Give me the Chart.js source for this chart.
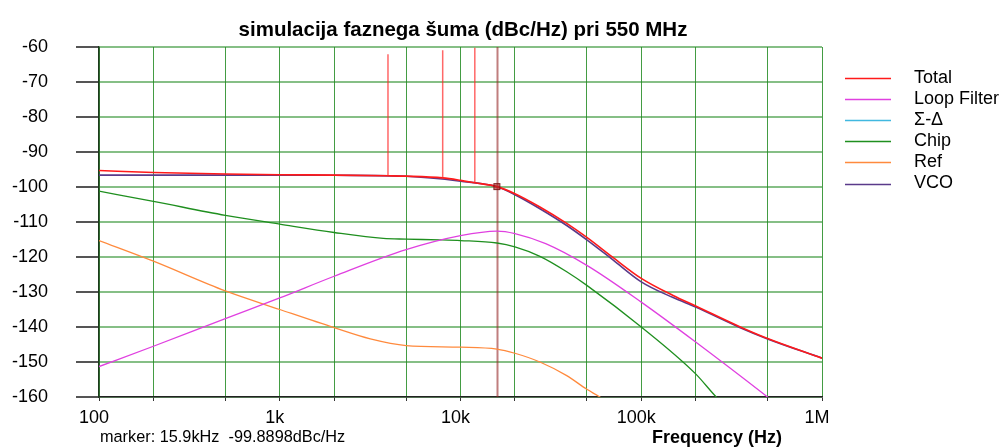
<!DOCTYPE html>
<html><head><meta charset="utf-8">
<script src="https://cdn.jsdelivr.net/npm/chart.js@4.4.1/dist/chart.umd.min.js"></script>
<style>html,body{margin:0;padding:0;background:#fff;} #wrap{width:1003px;height:448px;position:relative}</style>
</head><body><div id="wrap"><canvas id="c" width="1003" height="448"></canvas></div>
<script>
const titleText = 'simulacija faznega šuma (dBc/Hz) pri 550 MHz';
const xAxisTitle = 'Frequency (Hz)';
const markerLabel = 'marker: 15.9kHz  -99.8898dBc/Hz';
const seriesNames = ['Total', 'Loop Filter', 'Σ-Δ', 'Chip', 'Ref', 'VCO'];
const seriesColors = ['#ff1a1a', '#e040e0', '#40b8e0', '#1f8f1f', '#ff8a3d', '#5a3a8a'];
const xGridTicks = [100, 200, 500, 1000, 2000, 5000, 10000, 20000, 50000, 100000, 200000, 500000, 1000000];
const xTickLabels = {100: '100', 1000: '1k', 10000: '10k', 100000: '100k', 1000000: '1M'};

const totalFreq = [100, 200, 500, 1000, 2000, 3970, 5000, 7970, 10000, 12000, 15900, 20000, 27500, 38700, 50000, 70000, 100000, 150000, 200000, 353000, 500000, 1000000];
const totalVal  = [-95.3, -95.85, -96.3, -96.5, -96.6, -96.8, -96.9, -97.4, -98.1, -98.8, -99.89, -101.9, -105.7, -110.4, -114.4, -120.2, -126.1, -131.0, -134.0, -140.0, -143.3, -148.9];
const spurFreq = [3970, 7970, 12000];
const spurBase = [-96.8, -97.4, -98.8];
const spurTop  = [-62.1, -60.9, -60.2];

const loopFreq = [100, 200, 500, 1000, 2000, 5000, 10000, 15900, 20000, 29600, 50000, 100000, 200000, 500000, 560000];
const loopVal  = [-151.3, -145.5, -137.6, -131.7, -125.5, -117.9, -113.9, -112.6, -113.3, -116.2, -122.4, -132.9, -144.3, -160, -162];

const sdFreq = [100, 1000, 10000, 30000, 70000, 150000, 1000000];
const sdVal  = [-200, -185, -172, -165, -160.8, -162, -175];

const chipFreq = [100, 200, 500, 1000, 2000, 3740, 5000, 7700, 10000, 15900, 20000, 27500, 38700, 50000, 100000, 200000, 260000, 300000];
const chipVal  = [-101.2, -104.1, -108.1, -110.6, -113.0, -114.7, -114.9, -115.1, -115.3, -116.0, -117.1, -119.8, -124.2, -128.1, -140.0, -153.4, -160, -163];

const refFreq = [100, 200, 500, 1000, 2000, 3170, 5000, 10000, 15900, 20000, 27500, 38700, 50000, 59000, 65000];
const refVal  = [-115.3, -121.2, -129.7, -135.0, -140.2, -143.4, -145.3, -145.75, -146.3, -147.5, -150.0, -153.9, -157.8, -160, -161.5];

const vcoFreq = [100, 1000, 2000, 5000, 10000, 15900, 20000, 27500, 38700, 50000, 70000, 100000, 150000, 200000, 353000, 500000, 1000000];
const vcoVal  = [-96.6, -96.6, -96.65, -96.95, -98.35, -99.95, -102.2, -106.2, -111.0, -115.1, -120.9, -127.1, -131.6, -134.3, -140.2, -143.4, -148.9];

const markerFreq = [15900];
const markerVal = [-99.8898];

function pts(f, v) { return f.map((x, i) => ({x: x, y: v[i]})); }
function spurPts() {
  const out = [];
  spurFreq.forEach((f, i) => { out.push({x: f, y: spurBase[i]}); out.push({x: f, y: spurTop[i]}); out.push({x: f, y: null}); });
  return out;
}

const FONT = "'Liberation Sans', Arial, sans-serif";

const ds = (label, data, color, w) => ({
  label, data, borderColor: color, backgroundColor: color, borderWidth: w,
  pointRadius: 0, fill: false, cubicInterpolationMode: 'monotone'
});

const datasets = [
  Object.assign(ds(seriesNames[0], spurPts(), 'rgba(255,40,40,0.7)', 1.5), {cubicInterpolationMode: 'default', tension: 0, spanGaps: false}),
  ds(seriesNames[0], pts(totalFreq, totalVal), seriesColors[0], 1.6),
  ds(seriesNames[5], pts(vcoFreq, vcoVal), seriesColors[5], 1.6),
  ds(seriesNames[1], pts(loopFreq, loopVal), seriesColors[1], 1.3),
  ds(seriesNames[2], pts(sdFreq, sdVal), seriesColors[2], 1.3),
  ds(seriesNames[3], pts(chipFreq, chipVal), seriesColors[3], 1.3),
  ds(seriesNames[4], pts(refFreq, refVal), seriesColors[4], 1.3)
];

const markerPlugin = {
  id: 'marker',
  beforeDatasetsDraw(chart) {
    const {ctx, chartArea, scales} = chart;
    const x = Math.round(scales.x.getPixelForValue(markerFreq[0])) + 0.5;
    ctx.save();
    ctx.strokeStyle = 'rgba(150,40,40,0.6)';
    ctx.lineWidth = 2;
    ctx.beginPath(); ctx.moveTo(x, chartArea.top); ctx.lineTo(x, chartArea.bottom); ctx.stroke();
    ctx.restore();
  },
  afterDatasetsDraw(chart) {
    const {ctx, scales} = chart;
    const x = scales.x.getPixelForValue(markerFreq[0]);
    const y = scales.y.getPixelForValue(markerVal[0]);
    ctx.save();
    ctx.fillStyle = 'rgba(170,30,30,0.6)';
    ctx.strokeStyle = 'rgba(120,20,20,0.9)';
    ctx.lineWidth = 1;
    ctx.fillRect(x - 3, y - 3, 6, 6);
    ctx.strokeRect(x - 3, y - 3, 6, 6);
    ctx.restore();
  }
};

const textPlugin = {
  id: 'texts',
  afterDraw(chart) {
    const {ctx} = chart;
    ctx.save();
    ctx.fillStyle = '#000';
    ctx.textBaseline = 'middle';
    ctx.textAlign = 'center';
    ctx.font = 'bold 20.5px ' + FONT;
    ctx.fillText(titleText, 463, 30);
    ctx.font = 'bold 18px ' + FONT;
    ctx.fillText(xAxisTitle, 717, 438);
    ctx.textAlign = 'left';
    ctx.font = '16.3px ' + FONT;
    ctx.fillText(markerLabel, 100, 438);
    // legend
    ctx.font = '18px ' + FONT;
    seriesNames.forEach((name, i) => {
      const y = 78 + i * 21.1;
      ctx.strokeStyle = seriesColors[i];
      ctx.lineWidth = 1.5;
      ctx.beginPath(); ctx.moveTo(845, Math.round(y) + 0.5); ctx.lineTo(891, Math.round(y) + 0.5); ctx.stroke();
      ctx.fillStyle = '#000';
      ctx.fillText(name, 914, y);
    });
    ctx.restore();
  }
};

new Chart(document.getElementById('c'), {
  type: 'line',
  data: {datasets},
  options: {
    responsive: false, animation: false, devicePixelRatio: 1,
    layout: {padding: {left: 0, top: 47, right: 181, bottom: 0}},
    plugins: {legend: {display: false}, title: {display: false}, tooltip: {enabled: false}},
    elements: {line: {borderCapStyle: 'butt'}},
    scales: {
      x: {
        type: 'logarithmic', min: 100, max: 1000000,
        afterBuildTicks: (s) => { s.ticks = xGridTicks.map(v => ({value: v})); },
        afterFit: (s) => { s.height = 51; },
        ticks: {
          autoSkip: false, maxRotation: 0, padding: 6, labelOffset: -5,
          color: '#000', font: {family: FONT, size: 18},
          callback: (v) => xTickLabels[v] !== undefined ? xTickLabels[v] : ''
        },
        grid: {color: 'rgba(34,139,34,0.85)', lineWidth: 1, tickLength: 4, tickColor: '#333'},
        border: {color: '#222', width: 1.5}
      },
      y: {
        min: -160, max: -60,
        afterFit: (s) => { s.width = 99; },
        ticks: {stepSize: 10, padding: 28, color: '#000', font: {family: FONT, size: 18}},
        grid: {color: 'rgba(34,139,34,0.55)', lineWidth: 2, tickLength: 23, tickColor: '#555'},
        border: {color: '#1d3a1d', width: 1.5}
      }
    }
  },
  plugins: [markerPlugin, textPlugin]
});
</script>
</body></html>
